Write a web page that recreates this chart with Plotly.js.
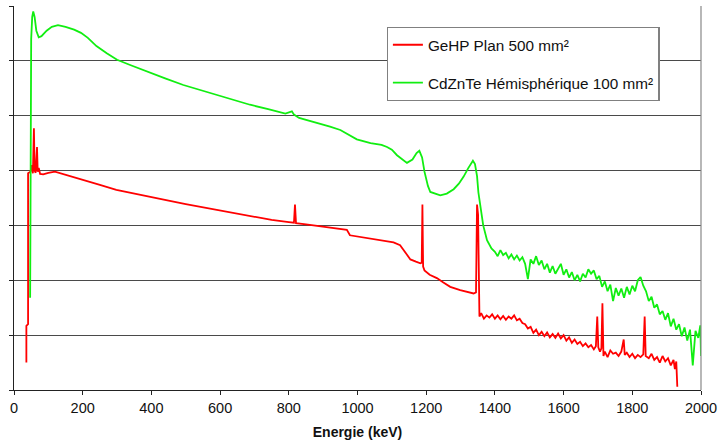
<!DOCTYPE html>
<html>
<head>
<meta charset="utf-8">
<script src="https://cdn.plot.ly/plotly-3.0.1.min.js"></script>
<style>html,body{margin:0;padding:0;background:#fff;}#chart{width:726px;height:447px;}</style>
</head>
<body>
<div id="chart"></div>
<script>
// Energy axis ticks
var tickValues = [0, 200, 400, 600, 800, 1000, 1200, 1400, 1600, 1800, 2000];
var tickLabels = ["0", "200", "400", "600", "800", "1000", "1200", "1400", "1600", "1800", "2000"];

var seriesNames = ["GeHP Plan 500 mm²", "CdZnTe Hémisphérique 100 mm²"];

// GeHP Plan 500 mm² (red) — energy (keV) and relative counts (grid units)
var gehpEnergy = [36, 36, 41, 41, 48, 52, 55, 58, 60, 63, 67, 69, 72, 76, 85, 100, 119, 150, 201, 250, 298, 350, 396, 450, 500, 600, 687, 750, 800, 815, 818, 821, 850, 900, 950, 969, 978, 1008, 1050, 1105, 1124, 1134, 1144, 1154, 1170, 1183, 1187, 1189, 1191, 1195, 1210, 1231, 1250, 1270, 1299, 1320, 1338, 1345, 1348, 1351, 1353, 1355,
  1360, 1368, 1376, 1384, 1392, 1400, 1408, 1416, 1424, 1432, 1440, 1448, 1456, 1464, 1472, 1480, 1488, 1496, 1504, 1512, 1520, 1528, 1536, 1544, 1552, 1560, 1568, 1576, 1584, 1592, 1600, 1608, 1616, 1624, 1632, 1640, 1648, 1656, 1664, 1672, 1680, 1688, 1694, 1698, 1701, 1706, 1710, 1713, 1716, 1720, 1728, 1736, 1744, 1752, 1760, 1768, 1775, 1778, 1784, 1792, 1800, 1808, 1816, 1824, 1832, 1836, 1839, 1848, 1856, 1864, 1872, 1880, 1888, 1896, 1904, 1912, 1920, 1924, 1928, 1931];
var gehpCounts = [0.50, 1.17, 1.20, 3.95, 3.98, 4.10, 3.95, 4.77, 4.00, 3.96, 4.43, 3.98, 4.05, 3.94, 3.93, 3.96, 3.98, 3.92, 3.83, 3.74, 3.65, 3.58, 3.51, 3.45, 3.39, 3.27, 3.17, 3.10, 3.06, 3.05, 3.38, 3.04, 3.02, 2.98, 2.94, 2.92, 2.82, 2.79, 2.74, 2.69, 2.64, 2.55, 2.46, 2.38, 2.34, 2.31, 2.32, 3.38, 2.25, 2.18, 2.10, 2.04, 1.96, 1.88, 1.82, 1.79, 1.76, 1.78, 3.38, 3.20, 1.40, 1.34,
  1.40, 1.30, 1.36, 1.32, 1.38, 1.30, 1.36, 1.29, 1.35, 1.28, 1.34, 1.30, 1.36, 1.27, 1.30, 1.22, 1.20, 1.12, 1.15, 1.04, 1.10, 1.00, 1.06, 0.98, 1.05, 0.96, 1.02, 0.95, 1.03, 0.94, 1.00, 0.90, 0.96, 0.86, 0.92, 0.84, 0.88, 0.80, 0.85, 0.78, 0.82, 0.74, 0.80, 1.34, 0.78, 0.70, 0.76, 1.58, 0.62, 0.70, 0.60, 0.72, 0.66, 0.68, 0.62, 0.70, 0.92, 0.64, 0.68, 0.60, 0.66, 0.58, 0.64, 0.60, 0.65, 1.34, 0.62, 0.58, 0.66, 0.55, 0.60, 0.50, 0.62, 0.52, 0.58, 0.45, 0.55, 0.38, 0.52, 0.06];

// CdZnTe Hémisphérique 100 mm² (green)
var czteEnergy = [47, 48, 50, 53, 56, 60, 65, 72, 80, 95, 110, 128, 150, 175, 195, 215, 240, 270, 300, 340, 396, 440, 493, 540, 590, 640, 687, 740, 790, 809, 815, 830, 860, 882, 920, 950, 998, 1038, 1070, 1086, 1100, 1115, 1130, 1144, 1160, 1172, 1180, 1188, 1195, 1205, 1212, 1230, 1241, 1260, 1280, 1295, 1309, 1322, 1330, 1336, 1342, 1348, 1352, 1358, 1366, 1377, 1390,
  1400, 1408, 1416, 1424, 1432, 1440, 1448, 1456, 1464, 1472, 1480, 1488, 1496, 1504, 1512, 1520, 1528, 1536, 1544, 1552, 1560, 1568, 1576, 1584, 1592, 1600, 1608, 1616, 1624, 1632, 1640, 1648, 1656, 1664, 1672, 1680, 1688, 1696, 1704, 1712, 1720, 1728, 1736, 1744, 1752, 1760, 1768, 1776, 1784, 1792, 1800, 1808, 1816, 1824, 1832, 1840, 1848, 1856, 1864, 1872, 1880, 1888, 1896, 1904, 1912, 1920, 1928, 1936, 1944, 1952, 1960, 1968, 1976, 1984, 1992, 1998, 2000];
var czteCounts = [1.68, 5.50, 6.40, 6.80, 6.90, 6.80, 6.55, 6.43, 6.45, 6.55, 6.62, 6.65, 6.62, 6.57, 6.51, 6.42, 6.27, 6.14, 6.02, 5.92, 5.78, 5.68, 5.56, 5.47, 5.38, 5.28, 5.20, 5.12, 5.04, 5.08, 5.02, 4.96, 4.91, 4.86, 4.80, 4.74, 4.57, 4.50, 4.47, 4.43, 4.38, 4.28, 4.20, 4.14, 4.20, 4.32, 4.36, 4.24, 3.98, 3.72, 3.61, 3.57, 3.55, 3.58, 3.66, 3.76, 3.89, 4.04, 4.13, 4.18, 4.12, 3.90, 3.60, 3.34, 3.00, 2.73, 2.58,
  2.52, 2.44, 2.55, 2.46, 2.50, 2.40, 2.47, 2.38, 2.45, 2.36, 2.42, 2.30, 2.02, 2.38, 2.30, 2.44, 2.28, 2.36, 2.20, 2.30, 2.14, 2.26, 2.12, 2.22, 2.30, 2.10, 2.20, 2.05, 2.15, 2.00, 2.10, 1.98, 2.12, 2.05, 2.20, 2.12, 2.18, 2.02, 2.08, 1.88, 1.98, 1.80, 1.92, 1.62, 1.86, 1.72, 1.85, 1.68, 1.88, 1.74, 1.90, 1.80, 2.00, 2.06, 1.90, 1.80, 1.62, 1.70, 1.50, 1.56, 1.38, 1.44, 1.28, 1.40, 1.16, 1.30, 1.10, 1.20, 0.98, 1.14, 0.90, 1.10, 0.45, 1.08, 0.95, 1.18, 0.62];

var traces = [
  {x: gehpEnergy, y: gehpCounts, type: "scatter", mode: "lines", name: seriesNames[0],
   line: {color: "#ff0000", width: 1.8}, legendgroup: "a"},
  {x: czteEnergy, y: czteCounts, type: "scatter", mode: "lines", name: seriesNames[1],
   line: {color: "#11ee11", width: 1.8}, legendgroup: "b"}
];

var layout = {
  width: 726, height: 447,
  margin: {l: 14, r: 25, t: 6, b: 57},
  paper_bgcolor: "#ffffff", plot_bgcolor: "#ffffff",
  font: {family: "Liberation Sans, Arial, sans-serif", size: 14.5, color: "#111"},
  showlegend: true,
  legend: {x: 0.5425, y: 0.945, xanchor: "left", yanchor: "top",
    bgcolor: "#ffffff", bordercolor: "#808080", borderwidth: 1.2,
    font: {size: 15.3, color: "#111"}, traceorder: "grouped", tracegroupgap: 15},
  xaxis: {range: [0, 2000], tickvals: tickValues, ticktext: tickLabels,
    showgrid: false, zeroline: false, showline: true, linecolor: "#222", linewidth: 1.2,
    ticks: "outside", ticklen: 4, tickcolor: "#222",
    tickfont: {size: 14.5, color: "#111"},
    title: {text: "<b>Energie (keV)</b>", font: {size: 14, color: "#111"}, standoff: 12}},
  yaxis: {range: [0, 7], dtick: 1, tick0: 0, showticklabels: false,
    showgrid: true, gridcolor: "#4a4a4a", gridwidth: 1.2, zeroline: false,
    showline: true, linecolor: "#222", linewidth: 1.2, ticks: "outside", ticklen: 4, tickcolor: "#222"},
  shapes: [
    {type: "line", xref: "paper", yref: "paper", x0: 1, x1: 1, y0: 0, y1: 1,
     line: {color: "#888", width: 1.2}}
  ]
};

Plotly.newPlot("chart", traces, layout, {displayModeBar: false, staticPlot: true});
</script>
</body>
</html>
